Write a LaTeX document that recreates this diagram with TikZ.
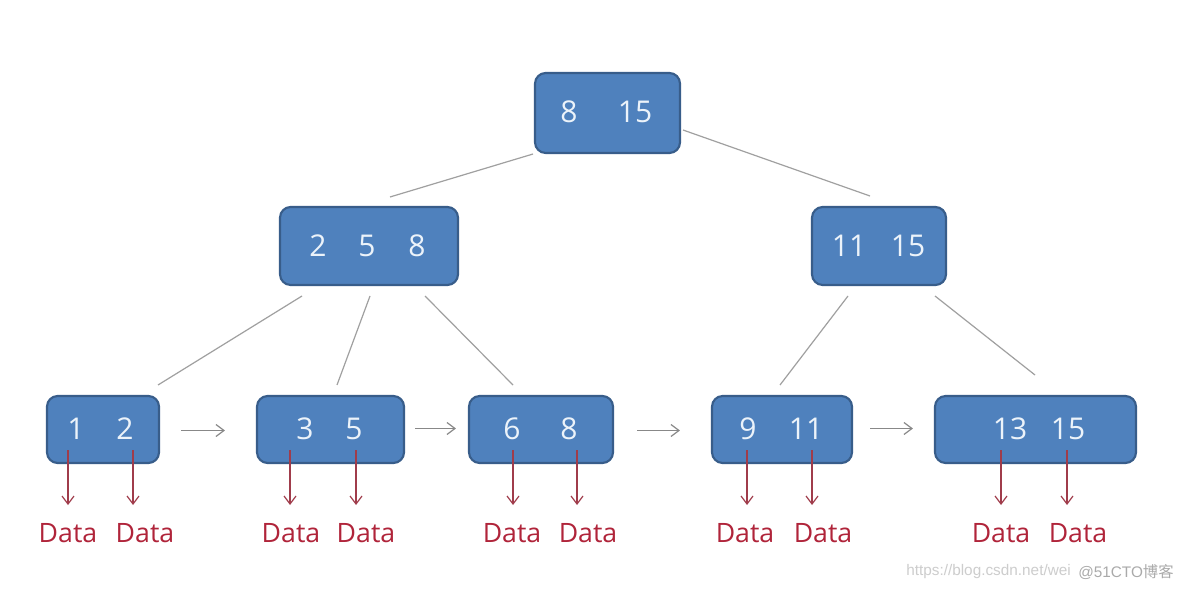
\documentclass[tikz,border=0pt]{standalone}
\usepackage{fontspec}
\setmainfont{Open Sans}
\newfontfamily\wmfont{Liberation Sans}
\newfontfamily\cjkfont{Noto Sans CJK SC}
\usetikzlibrary{arrows.meta,calc}
\definecolor{boxfill}{RGB}{79,129,189}
\definecolor{boxdraw}{RGB}{56,93,138}
\definecolor{keytext}{RGB}{236,243,250}
\definecolor{datared}{RGB}{176,36,58}
\definecolor{datarrow}{RGB}{160,60,75}
\definecolor{linkgray}{RGB}{160,160,160}
\definecolor{wmgray}{RGB}{205,205,205}
\definecolor{wmgray2}{RGB}{170,170,170}
\tikzset{
  treebox/.style={draw=boxdraw, fill=boxfill, line width=1.6pt, rounded corners=8pt, inner sep=0pt},
  keylab/.style={text=keytext, font=\fontsize{22.5}{26}\selectfont, inner sep=0pt, anchor=center},
  datalab/.style={text=datared, font=\fontsize{20}{24}\selectfont, inner sep=0pt, anchor=center},
  treelink/.style={draw=linkgray, line width=0.9pt},
  nextarrow/.style={draw=linkgray!85!black, line width=0.9pt, -{Straight Barb[length=6pt,width=9pt]}},
  dataarrow/.style={draw=datarrow, line width=0.9pt, -{Straight Barb[length=6pt,width=9pt]}},
}
\begin{document}
\begin{tikzpicture}[x=0.75pt,y=-0.75pt]
\useasboundingbox (0,0) rectangle (1184,591);
\fill[white] (0,0) rectangle (1184,591);

% boxes
\node[treebox, minimum width=108.75pt, minimum height=60pt] (root) at (607.5,113) {};
\node[treebox, minimum width=133.5pt, minimum height=58.5pt] (ml) at (369,246) {};
\node[treebox, minimum width=100.5pt, minimum height=58.5pt] (mr) at (879,246) {};
\node[treebox, minimum width=84pt, minimum height=50.25pt] (l1) at (103,429.5) {};
\node[treebox, minimum width=110.25pt, minimum height=50.25pt] (l2) at (330.5,429.5) {};
\node[treebox, minimum width=108pt, minimum height=50.25pt] (l3) at (541,429.5) {};
\node[treebox, minimum width=105pt, minimum height=50.25pt] (l4) at (782,429.5) {};
\node[treebox, minimum width=150.75pt, minimum height=50.25pt] (l5) at (1035.5,429.5) {};

% keys
\node[keylab] (r1) at (569,112) {8};
\node[keylab] (r2) at (635,112) {15};
\node[keylab] (m1) at (318,246) {2};
\node[keylab] (m2) at (367,246) {5};
\node[keylab] (m3) at (417,246) {8};
\node[keylab] (n1) at (849,246) {11};
\node[keylab] (n2) at (908,246) {15};
\node[keylab] (a1) at (76,429) {1};
\node[keylab] (a2) at (125,429) {2};
\node[keylab] (b1) at (305,429) {3};
\node[keylab] (b2) at (354,429) {5};
\node[keylab] (c1) at (512,429) {6};
\node[keylab] (c2) at (569,429) {8};
\node[keylab] (d1) at (748,429) {9};
\node[keylab] (d2) at (806,429) {11};
\node[keylab] (e1) at (1010,429) {13};
\node[keylab] (e2) at (1068,429) {15};

% tree link end points
\coordinate (rA) at (533,154);
\coordinate (mlA) at (390,197);
\coordinate (rB) at (683,130);
\coordinate (mrA) at (870,196);
\coordinate (mlB) at (302,296);
\coordinate (l1A) at (158,385);
\coordinate (mlC) at (370,296);
\coordinate (l2A) at (337,385);
\coordinate (mlD) at (425,296);
\coordinate (l3A) at (513,385);
\coordinate (mrB) at (848,296);
\coordinate (l4A) at (780,385);
\coordinate (mrC) at (935,296);
\coordinate (l5A) at (1035,375);

\draw[treelink] (rA) -- (mlA);
\draw[treelink] (rB) -- (mrA);
\draw[treelink] (mlB) -- (l1A);
\draw[treelink] (mlC) -- (l2A);
\draw[treelink] (mlD) -- (l3A);
\draw[treelink] (mrB) -- (l4A);
\draw[treelink] (mrC) -- (l5A);

% leaf next arrows
\draw[nextarrow] ($(l1.east)+(21,1)$) -- ($(l2.west)+(-31,1)$);
\draw[nextarrow] ($(l2.east)+(10,-1)$) -- ($(l3.west)+(-12,-1)$);
\draw[nextarrow] ($(l3.east)+(23,1)$) -- ($(l4.west)+(-31,1)$);
\draw[nextarrow] ($(l4.east)+(17,-1)$) -- ($(l5.west)+(-21,-1)$);

% data labels
\node[datalab] (da1) at (68,533) {Data};
\node[datalab] (da2) at (145,533) {Data};
\node[datalab] (db1) at (291,533) {Data};
\node[datalab] (db2) at (366,533) {Data};
\node[datalab] (dc1) at (512,533) {Data};
\node[datalab] (dc2) at (588,533) {Data};
\node[datalab] (dd1) at (745,533) {Data};
\node[datalab] (dd2) at (823,533) {Data};
\node[datalab] (de1) at (1001,533) {Data};
\node[datalab] (de2) at (1078,533) {Data};

% data arrows
\foreach \x in {68,133,290,356,513,577,747,812,1001,1067}{
  \draw[dataarrow] (\x,450) -- (\x,505);
}

% watermark
\node[anchor=west, inner sep=0pt, text=wmgray, font=\wmfont\fontsize{11.5}{13}\selectfont] (wm1) at (906,572) {https://blog.csdn.net/wei};
\node[anchor=west, inner sep=0pt, text=wmgray2, font=\wmfont\fontsize{11.5}{13}\selectfont] (wm2) at (1078,572) {@51CTO\cjkfont 博客};
\end{tikzpicture}
\end{document}
